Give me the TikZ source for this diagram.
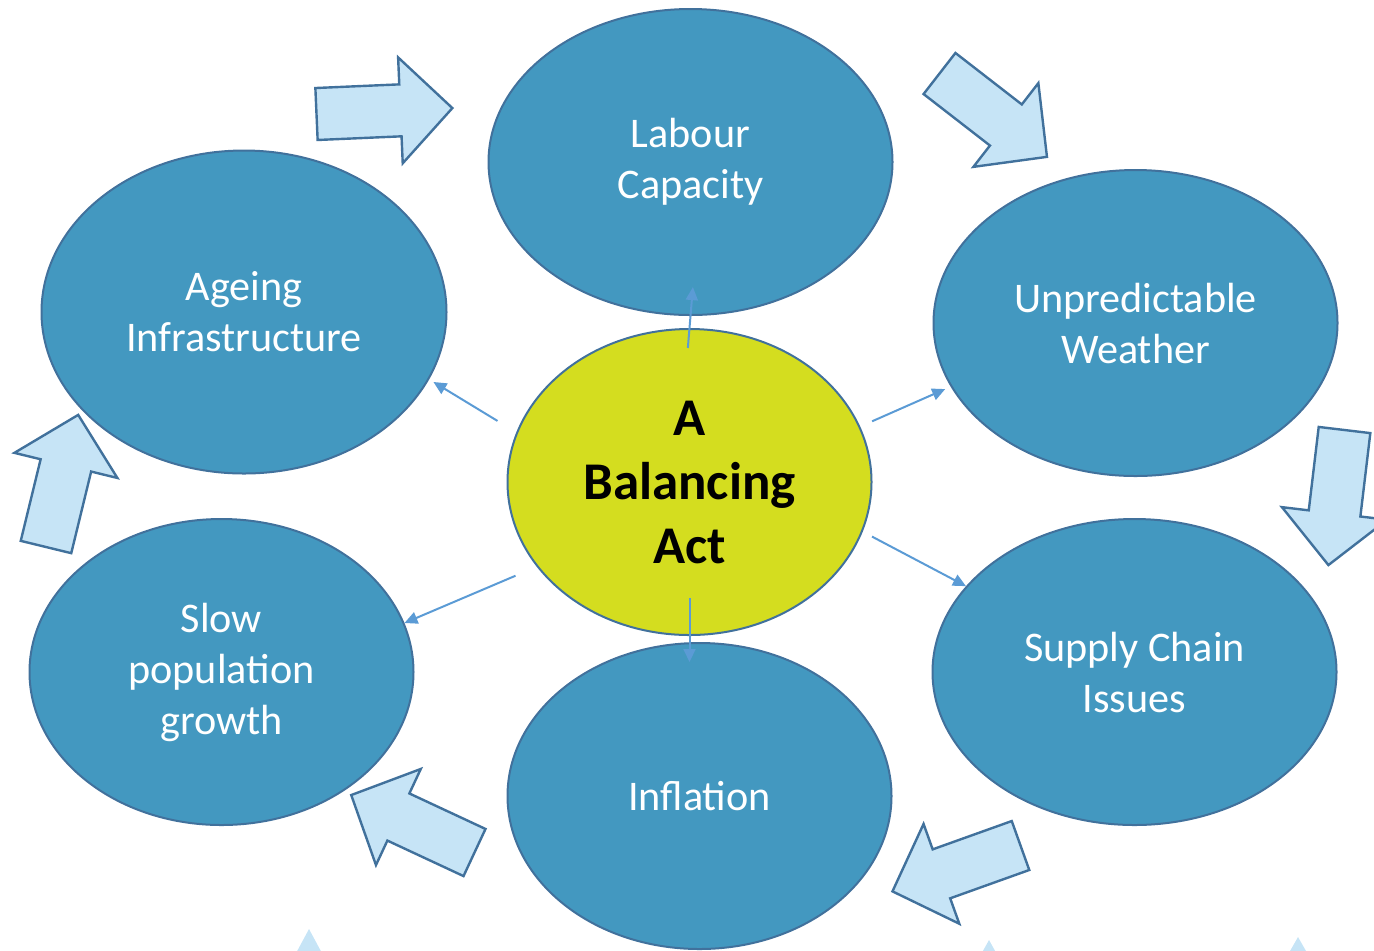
\documentclass[tikz,border=0pt]{standalone}
\usepackage{fontspec}
\setmainfont{Carlito}
\usetikzlibrary{shapes.geometric,arrows.meta}
\definecolor{ballblue}{HTML}{4398C0}
\definecolor{balledge}{HTML}{41719C}
\definecolor{ballgreen}{HTML}{D4DD1F}
\definecolor{arrowfill}{HTML}{C6E4F6}
\definecolor{linkblue}{HTML}{5B9BD5}

\begin{document}
\begin{tikzpicture}
  [x=0.5pt, y=-0.5pt,
   topic/.style={ellipse, draw=balledge, line width=1pt, fill=ballblue, text=white,
     align=center, inner sep=0pt, font=\fontsize{21.1}{25.5}\selectfont},
   hub/.style={ellipse, draw=balledge, line width=1pt, fill=ballgreen, align=center,
     inner sep=0pt, font=\fontsize{26.5}{32}\selectfont\bfseries},
   link/.style={draw=linkblue, line width=1pt, -{Triangle[length=6.5pt, width=6pt]}},
   bigarrow/.pic={\draw[draw=balledge, fill=arrowfill, line width=1.2pt]
     (0,-26) -- (84,-26) -- (84,-53) -- (136,0) -- (84,53) -- (84,26) -- (0,26) -- cycle;}]
  \useasboundingbox (0,0) rectangle (1374,950);

  \node[topic, minimum width=202pt, minimum height=153pt] (LC) at (690.5,162) {Labour\\Capacity};
  \node[topic, minimum width=202.5pt, minimum height=161.5pt] (AI) at (244,312) {Ageing\\Infrastructure};
  \node[topic, minimum width=202pt, minimum height=153pt] (UW) at (1135.5,323) {Unpredictable\\Weather};
  \node[topic, minimum width=202pt, minimum height=153pt] (SC) at (1134.5,672) {Supply Chain\\Issues};
  \node[topic, minimum width=192pt, minimum height=153pt] (IN) at (699.5,796) {Inflation};
  \node[topic, minimum width=192pt, minimum height=153pt] (SP) at (221.5,672) {Slow\\population\\growth};
  \node[hub, minimum width=182pt, minimum height=153pt] (BA) at (689.5,482) {A\\Balancing\\Act};

  % cycle arrows
  \pic[rotate=2.5] at (316.5,114) {bigarrow};
  \pic[rotate=-37.8] at (939.5,73.5) {bigarrow};
  \pic[rotate=-96.8] at (1344.5,430) {bigarrow};
  \pic[rotate=199.7] at (1020.5,845.5) {bigarrow};
  \pic[rotate=155] at (474.5,852.5) {bigarrow};
  \pic[rotate=76.3] at (46,547) {bigarrow};

  \fill[arrowfill] (309,929) -- (295,955) -- (323,955) -- cycle;
  \fill[arrowfill] (989,940) -- (979,958) -- (999,958) -- cycle;
  \fill[arrowfill] (1298,937) -- (1286,958) -- (1310,958) -- cycle;

  \draw[link, shorten <=-10pt, shorten >=-14.5pt] (BA.north) -- (LC.south);
  \draw[link, shorten <=-19pt, shorten >=-10pt] (BA.south) -- (BA.south |- IN.north);
  \draw[link, shorten <=11pt, shorten >=2.5pt] (BA.164) -- (AI.-20);
  \draw[link, shorten <=6.5pt, shorten >=3pt] (BA.18.5) -- (UW.199);
  \draw[link, shorten <=5.25pt] (BA.-16.5) -- (SC.153);
  \draw[link, shorten <=11.5pt] (BA.209) -- (SP.15);
\end{tikzpicture}
\end{document}
